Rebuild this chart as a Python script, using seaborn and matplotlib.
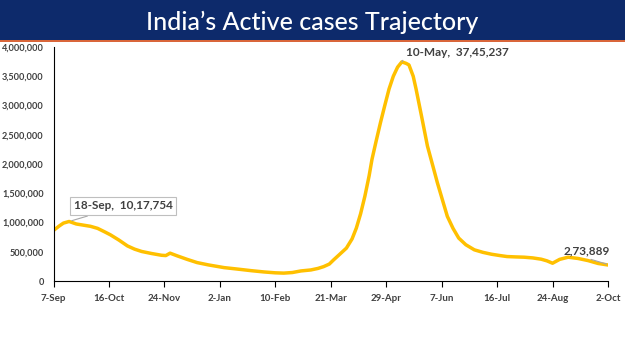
import pandas as pd
import matplotlib.pyplot as plt
from matplotlib.patches import Rectangle
import seaborn as sns

# Active cases (dates in 2020-2021)
dates = [
    "2020-09-07", "2020-09-11", "2020-09-14", "2020-09-18", "2020-09-23", "2020-09-28",
    "2020-10-03", "2020-10-08", "2020-10-13", "2020-10-17", "2020-10-23", "2020-10-29",
    "2020-11-03", "2020-11-08", "2020-11-15", "2020-11-22", "2020-11-25", "2020-11-28",
    "2020-12-03", "2020-12-10", "2020-12-17", "2020-12-25", "2021-01-05", "2021-01-14",
    "2021-01-24", "2021-02-02", "2021-02-10", "2021-02-16", "2021-02-22", "2021-02-28",
    "2021-03-07", "2021-03-12", "2021-03-16", "2021-03-20", "2021-03-23", "2021-03-27",
    "2021-04-01", "2021-04-05", "2021-04-08", "2021-04-11", "2021-04-14", "2021-04-17",
    "2021-04-19", "2021-04-22", "2021-04-25", "2021-04-28", "2021-05-01", "2021-05-04",
    "2021-05-07", "2021-05-10", "2021-05-13", "2021-05-15", "2021-05-18", "2021-05-20",
    "2021-05-24", "2021-05-28", "2021-06-01", "2021-06-04", "2021-06-08", "2021-06-11",
    "2021-06-15", "2021-06-19", "2021-06-24", "2021-06-30", "2021-07-06", "2021-07-12",
    "2021-07-18", "2021-07-23", "2021-07-29", "2021-08-04", "2021-08-10", "2021-08-16",
    "2021-08-20", "2021-08-24", "2021-08-29", "2021-09-04", "2021-09-11", "2021-09-18",
    "2021-09-25", "2021-10-02",
]
active = [
    864000, 940000, 990000, 1017754, 975000, 955000,
    935000, 900000, 840000, 790000, 700000, 600000,
    545000, 505000, 470000, 440000, 435000, 476000,
    430000, 370000, 315000, 275000, 229000, 205000,
    177000, 155000, 140000, 135000, 145000, 172000,
    189000, 215000, 246000, 290000, 361000, 450000,
    562000, 720000, 905000, 1150000, 1449000, 1800000,
    2079000, 2400000, 2710000, 3000000, 3282000, 3500000,
    3655000, 3745237, 3720000, 3694000, 3500000, 3282000,
    2800000, 2308000, 1950000, 1679000, 1350000, 1105000,
    900000, 734000, 620000, 533000, 490000, 458000,
    435000, 418000, 412000, 407000, 395000, 373000,
    345000, 304000, 370000, 407000, 385000, 349000,
    300000, 273889,
]
tick_dates = ["2020-09-07", "2020-10-16", "2020-11-24", "2021-01-02", "2021-02-10",
              "2021-03-21", "2021-04-29", "2021-06-07", "2021-07-16", "2021-08-24",
              "2021-10-02"]
tick_labels = ["7-Sep", "16-Oct", "24-Nov", "2-Jan", "10-Feb", "21-Mar",
               "29-Apr", "7-Jun", "16-Jul", "24-Aug", "2-Oct"]
y_ticks = [0, 500000, 1000000, 1500000, 2000000, 2500000, 3000000, 3500000, 4000000]

df = pd.DataFrame({"Date": pd.to_datetime(dates), "Active": active})

sns.set_style("white")
plt.rcParams['font.family'] = ['Lato', 'DejaVu Sans']

text_col = "#404040"
fig = plt.figure(figsize=(6.25, 3.51), dpi=100)

# Title banner
fig.patches.append(Rectangle((0, 0.886), 1, 0.114, transform=fig.transFigure,
                             facecolor="#0D2A6B", edgecolor="none"))
fig.patches.append(Rectangle((0, 0.880), 1, 0.006, transform=fig.transFigure,
                             facecolor="#D9663A", edgecolor="none"))
fig.text(0.5, 0.935, "India\u2019s Active cases Trajectory", color="white",
         fontsize=18, fontweight="medium", ha="center", va="center")

ax = fig.add_axes([0.0856, 0.1994, 0.8872, 0.6667])
sns.lineplot(data=df, x="Date", y="Active", color="#FFC000", linewidth=2.5, ax=ax)

ax.set_xlim(pd.Timestamp("2020-09-07"), pd.Timestamp("2021-10-02"))
ax.set_ylim(0, 4000000)
ax.set_xticks(pd.to_datetime(tick_dates))
ax.set_xticklabels(tick_labels)
ax.set_yticks(y_ticks)
ax.set_yticklabels([f"{v:,}" for v in y_ticks])
ax.set_xlabel("")
ax.set_ylabel("")

for s in ["top", "right"]:
    ax.spines[s].set_visible(False)
for s in ["left", "bottom"]:
    ax.spines[s].set_color("black")
    ax.spines[s].set_linewidth(0.8)

ax.tick_params(axis="x", length=4, width=0.8, color="black", pad=5,
               labelsize=7, labelcolor=text_col, bottom=True)
ax.tick_params(axis="y", length=0, pad=7, labelsize=6.6, labelcolor=text_col)
for lab in ax.get_xticklabels() + ax.get_yticklabels():
    lab.set_fontweight("bold")

# Annotations
ann_kw = dict(fontsize=8.5, fontweight="bold", color=text_col)
ax.annotate("18-Sep,  10,17,754", xy=(pd.Timestamp("2020-09-18"), 1017754),
            xytext=(pd.Timestamp("2020-10-26"), 1285000), ha="center", va="center",
            bbox=dict(boxstyle="square,pad=0.3", fc="white", ec="#BFBFBF", lw=0.8),
            arrowprops=dict(arrowstyle="-", color="#A6A6A6", lw=0.8,
                            relpos=(0.3, 0.0)), **ann_kw)
ax.annotate("10-May,  37,45,237", xy=(pd.Timestamp("2021-05-10"), 3745237),
            xytext=(pd.Timestamp("2021-05-13"), 3900000), ha="left", va="center",
            arrowprops=dict(arrowstyle="-", color="#A6A6A6", lw=0.8,
                            relpos=(0.0, 0.3)), **ann_kw)
ax.annotate("2,73,889", xy=(pd.Timestamp("2021-10-02"), 273889),
            xytext=(pd.Timestamp("2021-09-17"), 510000), ha="center", va="center",
            **ann_kw)
ax.plot(pd.to_datetime(["2021-09-20", "2021-10-01"]), [370000, 290000],
        color="#A6A6A6", lw=0.8)

fig.savefig("out.png", dpi=100)
